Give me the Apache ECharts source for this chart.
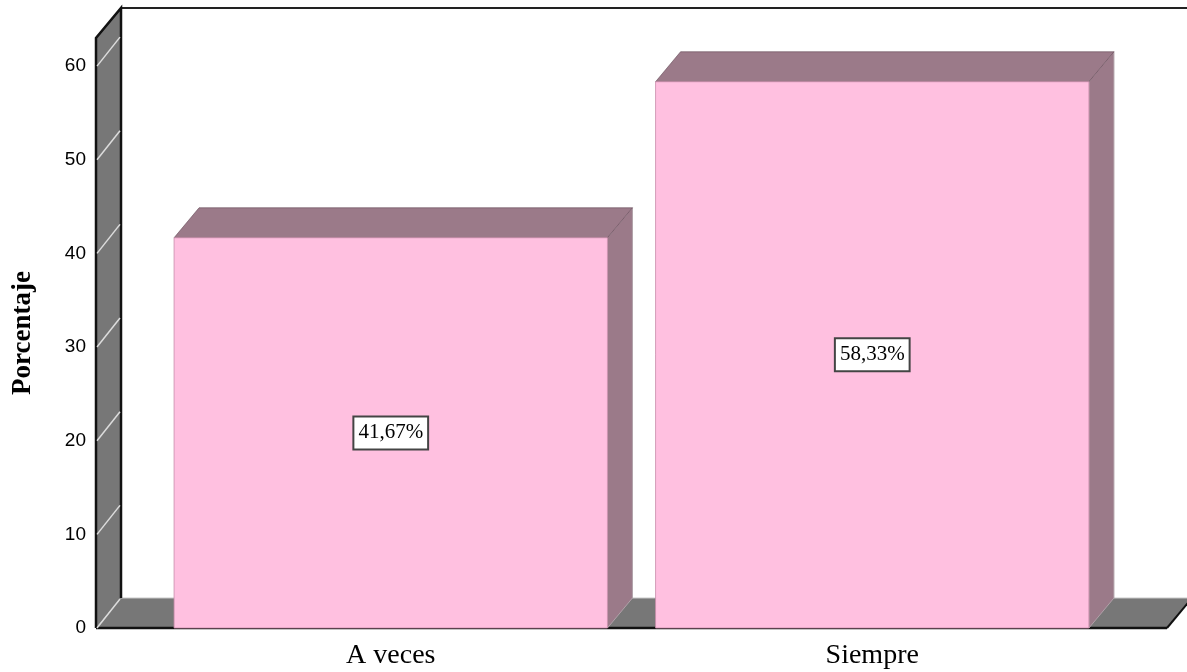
<!DOCTYPE html>
<html>
<head>
<meta charset="utf-8">
<style>
html,body{margin:0;padding:0;background:#fff;}
#main{width:1187px;height:672px;}
</style>
</head>
<body>
<div id="main"></div>
<script src="https://cdn.jsdelivr.net/npm/echarts@6/dist/echarts.min.js"></script>
<script>
var categories=['A veces','Siempre'];
var percents=[41.67,58.33];
var yTicks=[0,10,20,30,40,50,60];

// depth of the 3d box, and how far the floor runs past the bars
var DX=25,DY=-30,EXT=54;
var wallGray='#777777',barFront='#ffc0e0',barSide='#9b7a89';

var fmtPct=function(v){ return v.toFixed(2).replace('.',',')+'%'; };

var renderFrame=function(params,api){
	var cs=params.coordSys;
	var L=cs.x-EXT,R=cs.x+cs.width+EXT,T=cs.y,B=cs.y+cs.height;
	var ch=[];
	// back wall top edge
	ch.push({type:'line',shape:{x1:L+DX,y1:T+DY,x2:R+DX+40,y2:T+DY},style:{stroke:'#222',lineWidth:2}});
	// floor
	ch.push({type:'polygon',shape:{points:[[L,B],[R,B],[R+DX,B+DY],[L+DX,B+DY]]},style:{fill:wallGray}});
	ch.push({type:'line',shape:{x1:L+DX,y1:B+DY,x2:R+DX,y2:B+DY},style:{stroke:'#c8c8c8',lineWidth:1}});
	ch.push({type:'line',shape:{x1:R,y1:B,x2:R+DX,y2:B+DY},style:{stroke:'#111',lineWidth:2}});
	ch.push({type:'line',shape:{x1:L,y1:B,x2:R,y2:B},style:{stroke:'#111',lineWidth:2.5}});
	// left wall
	ch.push({type:'polygon',shape:{points:[[L,B],[L,T],[L+DX,T+DY],[L+DX,B+DY]]},style:{fill:wallGray}});
	ch.push({type:'polyline',shape:{points:[[L,B],[L,T],[L+DX,T+DY],[L+DX,B+DY]]},style:{stroke:'#111',lineWidth:2.5,fill:null}});
	for(var i in yTicks){
		var y=api.coord([0,yTicks[i]])[1];
		ch.push({type:'line',shape:{x1:L+1,y1:y,x2:L+DX-1,y2:y+DY+1},style:{stroke:'#dcdcdc',lineWidth:1.5}});
	}
	return {type:'group',children:ch};
};

var renderBar=function(params,api){
	var idx=api.value(0),val=api.value(1);
	var top=api.coord([idx,val]),base=api.coord([idx,0]);
	var w=api.size([1,0])[0]*0.9;
	var x0=top[0]-w/2,x1=top[0]+w/2,yt=top[1],yb=base[1];
	var edge='rgba(90,60,75,0.55)';
	return {type:'group',children:[
		{type:'polygon',shape:{points:[[x1,yt],[x1+DX,yt+DY],[x1+DX,yb+DY],[x1,yb]]},style:{fill:barSide,stroke:'#b0a0a8',lineWidth:1}},
		{type:'polygon',shape:{points:[[x0,yt],[x1,yt],[x1+DX,yt+DY],[x0+DX,yt+DY]]},style:{fill:barSide,stroke:edge,lineWidth:1}},
		{type:'rect',shape:{x:x0,y:yt,width:w,height:yb-yt},style:{fill:barFront,stroke:'rgba(200,140,170,0.8)',lineWidth:1}},
		{type:'text',z2:10,style:{
			text:fmtPct(val),x:top[0],y:(yt+yb)/2,align:'center',verticalAlign:'middle',
			font:'21px "Liberation Serif"',fill:'#000',
			backgroundColor:'#fff',borderColor:'#444',borderWidth:2,padding:[5,4,5,4]
		}}
	]};
};

var myChart=echarts.init(document.getElementById('main'),null,{renderer:'canvas'});
myChart.setOption({
	animation:false,
	backgroundColor:'#fff',
	grid:{left:150,right:74,top:38,bottom:44,containLabel:false},
	xAxis:{
		type:'category',data:categories,
		axisLine:{show:false},axisTick:{show:false},splitLine:{show:false},
		axisLabel:{margin:14,color:'#000',fontFamily:'Liberation Serif',fontSize:28}
	},
	yAxis:{
		type:'value',min:0,max:63,interval:10,
		name:'Porcentaje',nameLocation:'middle',nameRotate:90,nameGap:113,
		nameTextStyle:{color:'#000',fontFamily:'Liberation Serif',fontWeight:'bold',fontSize:27},
		axisLine:{show:false},axisTick:{show:false},splitLine:{show:false},
		axisLabel:{margin:64,color:'#000',fontFamily:'Liberation Sans',fontSize:19,padding:[8,0,0,0],
			formatter:function(v){ return v%10===0?v:''; }}
	},
	series:[
		{type:'custom',z:1,renderItem:renderFrame,data:[[0,0]],silent:true},
		{type:'custom',z:2,renderItem:renderBar,encode:{x:0,y:1},
			data:percents.map(function(v,i){ return [i,v]; })}
	]
});
</script>
</body>
</html>
